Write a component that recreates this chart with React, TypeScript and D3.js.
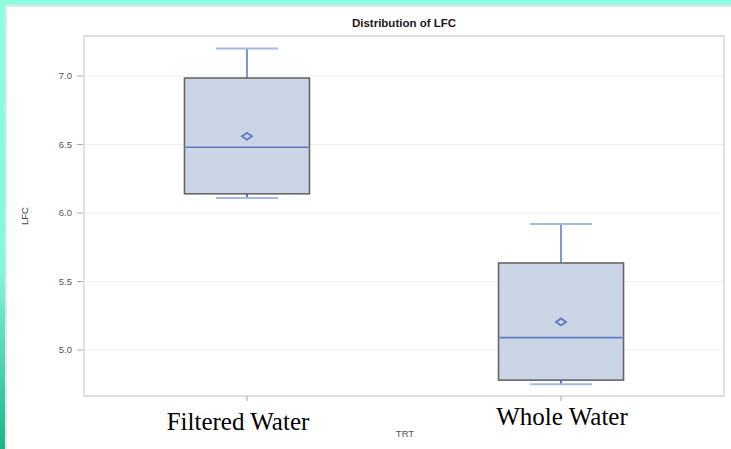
import * as d3 from 'd3';

const categories = ['Filtered Water', 'Whole Water'];
const whiskerLow = [6.11, 4.75];
const q1 = [6.14, 4.78];
const medians = [6.48, 5.09];
const q3 = [6.985, 5.635];
const whiskerHigh = [7.2, 5.92];
const means = [6.56, 5.205];
const yTicks = [5.0, 5.5, 6.0, 6.5, 7.0];

const width = 731;
const height = 449;
const frame = { left: 84, right: 724, top: 36, bottom: 396 };

export default function App() {
  const y = d3.scaleLinear().domain([4.664, 7.292]).range([frame.bottom, frame.top]);
  const x = d3.scalePoint<string>().domain(categories).range([frame.left, frame.right]).padding(0.519);

  const boxW = 125;
  const capW = 62;
  const fmt = d3.format('.1f');

  const boxes = categories.map((c, i) => {
    const cx = x(c) as number;
    const dx = 5;
    const dy = 3.5;
    const my = y(means[i]);
    const diamond = `M${cx - dx},${my} L${cx},${my - dy} L${cx + dx},${my} L${cx},${my + dy} Z`;
    return (
      <g key={c}>
        <line x1={cx} x2={cx} y1={y(whiskerHigh[i])} y2={y(q3[i])} stroke='#7f98d4' strokeWidth={2} />
        <line x1={cx} x2={cx} y1={y(whiskerLow[i])} y2={y(q1[i])} stroke='#5b78c0' strokeWidth={2} />
        <line x1={cx - capW / 2} x2={cx + capW / 2} y1={y(whiskerHigh[i])} y2={y(whiskerHigh[i])} stroke='#a6b8e4' strokeWidth={2} />
        <line x1={cx - capW / 2} x2={cx + capW / 2} y1={y(whiskerLow[i])} y2={y(whiskerLow[i])} stroke='#a6b8e4' strokeWidth={2} />
        <rect
          x={cx - boxW / 2}
          y={y(q3[i])}
          width={boxW}
          height={y(q1[i]) - y(q3[i])}
          fill='#cad5e6'
          stroke='#666666'
          strokeWidth={1.6}
        />
        <line x1={cx - boxW / 2 + 1} x2={cx + boxW / 2 - 1} y1={y(medians[i])} y2={y(medians[i])} stroke='#5b7cc4' strokeWidth={1.6} />
        <path d={diamond} fill='none' stroke='#5b7cc4' strokeWidth={1.8} />
      </g>
    );
  });

  return (
    <div style={{ position: 'absolute', left: 0, top: 0 }}>
      <svg width={width} height={height} style={{ display: 'block' }}>
        <defs>
          <linearGradient id='edge' x1='0' y1='0' x2='0' y2='1'>
            <stop offset='0' stopColor='#8effe0' />
            <stop offset='0.6' stopColor='#84f7da' />
            <stop offset='1' stopColor='#1fb386' />
          </linearGradient>
        </defs>
        <rect x={0} y={0} width={width} height={height} fill='#ffffff' />
        <rect x={0} y={0} width={width} height={5} fill='#8effe0' />
        <rect x={0} y={0} width={5} height={height} fill='url(#edge)' />
        <line x1={5} x2={width} y1={6} y2={6} stroke='#e6e6e6' strokeWidth={2} />
        <line x1={6} x2={6} y1={5} y2={height} stroke='#e6e6e6' strokeWidth={2} />

        <text x={404} y={27} textAnchor='middle' fontFamily='Arial, Liberation Sans' fontWeight='bold' fontSize={11.5} fill='#1a1a1a'>
          Distribution of LFC
        </text>

        <g>
          {yTicks.map((t) => (
            <line key={`g${t}`} x1={frame.left} x2={frame.right} y1={y(t)} y2={y(t)} stroke='#eeeeee' strokeWidth={1} />
          ))}
        </g>
        <rect
          x={frame.left}
          y={frame.top}
          width={frame.right - frame.left}
          height={frame.bottom - frame.top}
          fill='none'
          stroke='#cccccc'
          strokeWidth={1.2}
        />

        <g fontFamily='Arial, Liberation Sans' fontSize={9.5} fill='#555'>
          {yTicks.map((t) => (
            <g key={`t${t}`}>
              <line x1={77} x2={83} y1={y(t)} y2={y(t)} stroke='#aaaaaa' />
              <text x={72} y={y(t)} dy='0.35em' textAnchor='end'>
                {fmt(t)}
              </text>
            </g>
          ))}
        </g>
        <text
          transform={`translate(28, 216) rotate(-90)`}
          textAnchor='middle'
          fontFamily='Arial, Liberation Sans'
          fontSize={9.5}
          fill='#444'
        >
          LFC
        </text>

        {categories.map((c) => (
          <line key={`xt${c}`} x1={x(c)} x2={x(c)} y1={frame.bottom} y2={frame.bottom + 5} stroke='#aaaaaa' />
        ))}

        {boxes}

        <text x={238} y={430} textAnchor='middle' fontFamily='Liberation Serif, Times New Roman, serif' fontSize={25} fill='#000'>
          {categories[0]}
        </text>
        <text x={562} y={425} textAnchor='middle' fontFamily='Liberation Serif, Times New Roman, serif' fontSize={25} fill='#000'>
          {categories[1]}
        </text>
        <text x={405} y={437} textAnchor='middle' fontFamily='Arial, Liberation Sans' fontSize={9.5} fill='#555'>
          TRT
        </text>
      </svg>
    </div>
  );
}
